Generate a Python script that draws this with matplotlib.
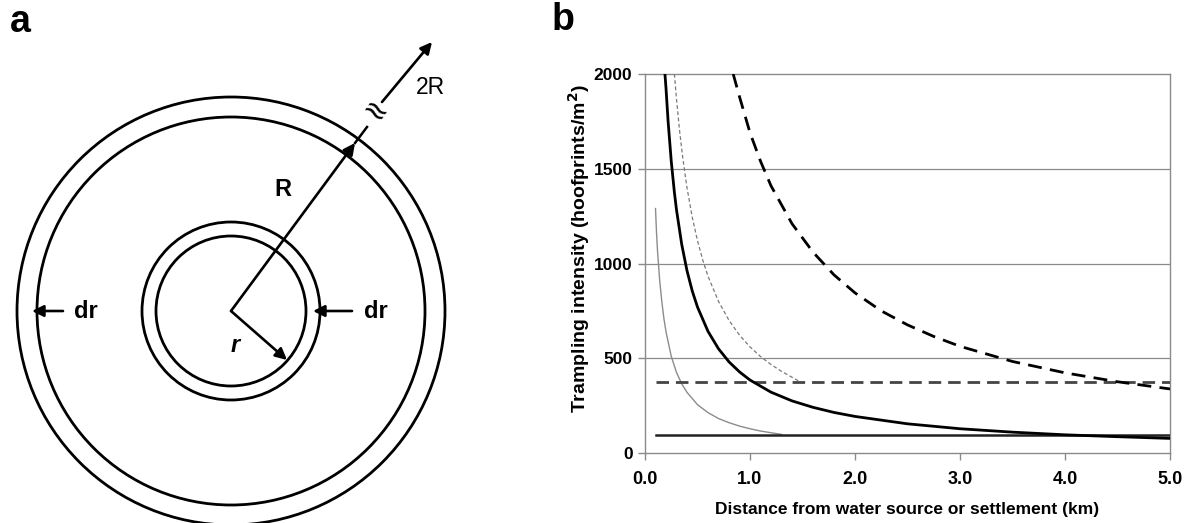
import numpy as np
import matplotlib.pyplot as plt
import matplotlib.patches as mpatches

plt.rcParams['font.family'] = ['Liberation Sans', 'DejaVu Sans']

# ---- panel b data ----
thick_x = [0.19, 0.2, 0.22, 0.25, 0.28, 0.3, 0.35, 0.4, 0.45, 0.5, 0.6, 0.7, 0.8, 0.9, 1.0,
           1.2, 1.4, 1.6, 1.8, 2.0, 2.5, 3.0, 3.5, 4.0, 4.5, 5.0]
thick_y = [2000, 1925, 1750, 1540, 1375, 1283, 1100, 962, 855, 770, 642, 550, 481, 428, 385,
           321, 275, 241, 214, 193, 154, 128, 110, 96, 86, 77]

dot_x = [0.28, 0.3, 0.33, 0.36, 0.4, 0.45, 0.5, 0.55, 0.6, 0.7, 0.8, 0.9, 1.0, 1.1, 1.2, 1.3, 1.48]
dot_y = [2000, 1867, 1697, 1556, 1400, 1244, 1120, 1018, 933, 800, 700, 622, 560, 509, 467, 431, 375]

thin_x = [0.1, 0.11, 0.12, 0.14, 0.16, 0.18, 0.2, 0.25, 0.3, 0.35, 0.4, 0.5, 0.6, 0.7, 0.8,
          0.9, 1.0, 1.1, 1.2, 1.3]
thin_y = [1290, 1160, 1060, 910, 800, 710, 640, 510, 425, 365, 320, 255, 213, 182, 160,
          142, 128, 116, 107, 98]

dash_x = [0.84, 0.9, 1.0, 1.1, 1.2, 1.4, 1.6, 1.8, 2.0, 2.25, 2.5, 2.75, 3.0, 3.5, 4.0, 4.5, 5.0]
dash_y = [2000, 1880, 1690, 1540, 1410, 1210, 1060, 940, 845, 750, 676, 615, 563, 483, 423, 376, 338]

hline_dash = 375
hline_solid = 95
x_ticks = [0.0, 1.0, 2.0, 3.0, 4.0, 5.0]
y_ticks = [0, 500, 1000, 1500, 2000]

W, H = 1189, 523
fig = plt.figure(figsize=(W / 100, H / 100), dpi=100)

# ---------------- panel a: ring diagram ----------------
axa = fig.add_axes([0, 0, 500 / W, 1])
axa.set_xlim(0, 500)
axa.set_ylim(H, 0)
axa.axis('off')

cx, cy = 231, 311
for rad in [214, 194, 89, 75]:
    axa.add_patch(mpatches.Circle((cx, cy), rad, fill=False, lw=2.0, ec='black'))

arrow = dict(arrowstyle='-|>', lw=1.9, color='black', mutation_scale=17, shrinkA=0, shrinkB=0)
axa.annotate('', xy=(355, 143), xytext=(cx, cy), arrowprops=arrow)
axa.plot([355, 367], [143, 127], color='black', lw=1.8)
axa.text(374, 114, '≈', fontsize=22, family=['DejaVu Sans'], ha='center', va='center',
         rotation=-35)
axa.annotate('', xy=(432, 42), xytext=(382, 102), arrowprops=arrow)
axa.annotate('', xy=(287, 360), xytext=(cx, cy), arrowprops=arrow)
axa.annotate('', xy=(32, 311), xytext=(63, 311), arrowprops=arrow)
axa.annotate('', xy=(313, 311), xytext=(352, 311), arrowprops=arrow)

axa.text(430, 87, '2R', fontsize=16.5, ha='center', va='center')
axa.text(283, 190, 'R', fontsize=17, fontweight='bold', ha='center', va='center')
axa.text(235, 346, 'r', fontsize=17, fontweight='bold', style='italic', ha='center', va='center')
axa.text(86, 311, 'dr', fontsize=17, fontweight='bold', ha='center', va='center')
axa.text(376, 311, 'dr', fontsize=17, fontweight='bold', ha='center', va='center')
fig.text(20 / W, 1 - 22 / H, 'a', fontsize=27, fontweight='bold', ha='center', va='center')
fig.text(563 / W, 1 - 20 / H, 'b', fontsize=27, fontweight='bold', ha='center', va='center')

# ---------------- panel b: trampling intensity ----------------
ax = fig.add_axes([645 / W, (H - 453) / H, 525 / W, 379 / H])
for yv in [500, 1000, 1500]:
    ax.axhline(yv, color='#8a8a8a', lw=0.9, zorder=1)

ax.plot(thin_x, thin_y, color='#8c8c8c', lw=1.0, zorder=3)
ax.plot(dot_x, dot_y, color='#7a7a7a', lw=0.9, dashes=(3, 2), zorder=3)
ax.plot([0.1, 5.0], [hline_dash, hline_dash], color='#444444', lw=2.0, dashes=(4.5, 2.5), zorder=3)
ax.plot([0.1, 5.0], [hline_solid, hline_solid], color='#222222', lw=1.8, zorder=3)
ax.plot(thick_x, thick_y, color='black', lw=2.0, zorder=4)
ax.plot(dash_x, dash_y, color='black', lw=2.0, dashes=(5, 3), zorder=4)

ax.set_xlim(0, 5)
ax.set_ylim(0, 2000)
ax.set_xticks(x_ticks)
ax.set_xticklabels(['%.1f' % v for v in x_ticks], fontsize=13, fontweight='bold')
ax.set_yticks(y_ticks)
ax.set_yticklabels([str(v) for v in y_ticks], fontsize=12.5, fontweight='bold')
for sp in ax.spines.values():
    sp.set_color('#8a8a8a')
    sp.set_linewidth(1.0)
ax.tick_params(axis='both', color='#8a8a8a', length=5, width=1.0)
ax.tick_params(axis='x', pad=8)
ax.tick_params(axis='y', pad=4)
ax.set_xlabel('Distance from water source or settlement (km)', fontsize=12.5,
              fontweight='bold', labelpad=10)
ax.set_ylabel('Trampling intensity (hoofprints/m$^\\mathbf{2}$)', fontsize=14,
              fontweight='bold')
ax.yaxis.set_label_coords(-0.1, 0.54)

plt.savefig('out.png', dpi=100)
